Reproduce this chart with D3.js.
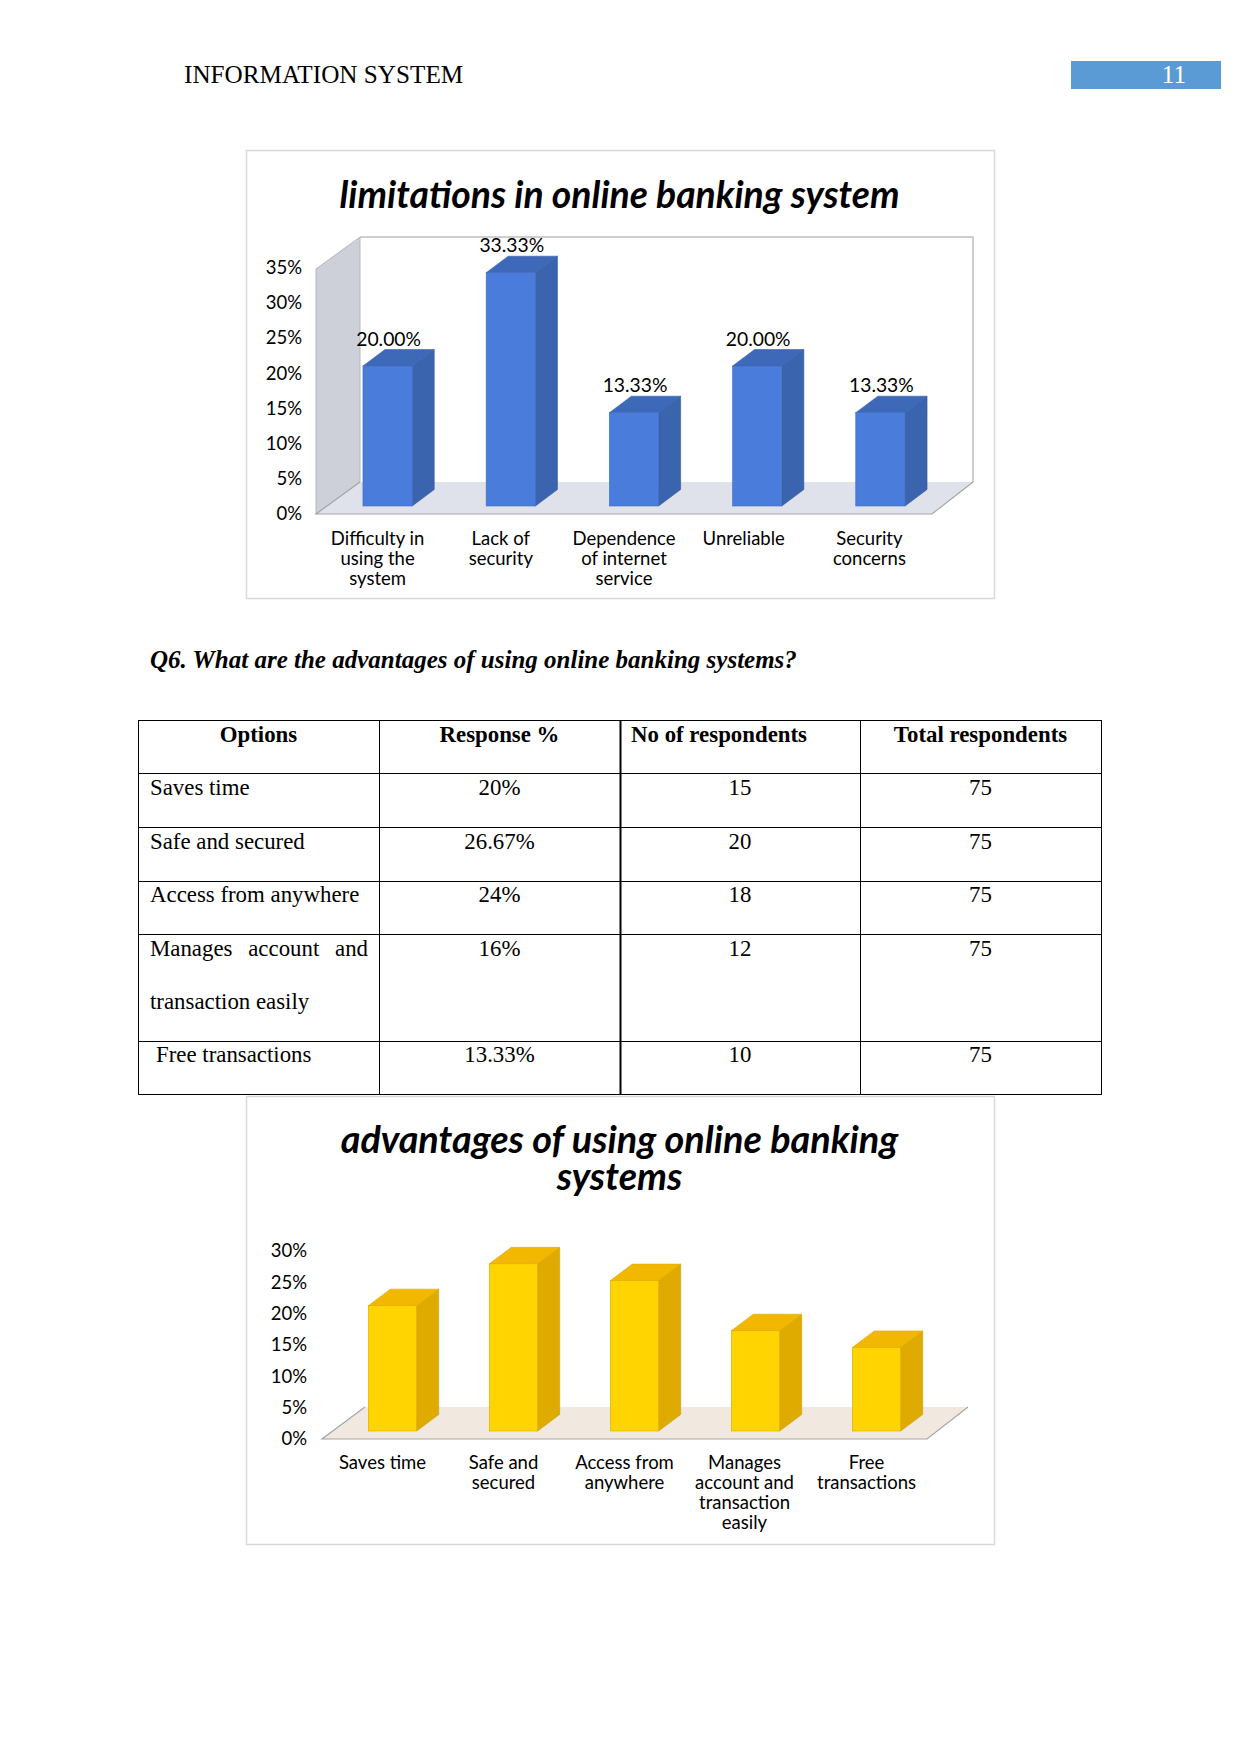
<!DOCTYPE html>
<html>
<head>
<meta charset="utf-8">
<script src="https://cdn.jsdelivr.net/npm/d3@7"></script>
<style>
  body { margin: 0; background: #fff; }
  text { fill: #000; }
  .serif { font-family: "Liberation Serif", serif; }
  .chart text { font-family: Lato, sans-serif; }
</style>
</head>
<body>
<div id="page"></div>
<script>
// chart 1
var limitCats = [["Difficulty in", "using the", "system"], ["Lack of", "security"], ["Dependence", "of internet", "service"], ["Unreliable"], ["Security", "concerns"]];
var limitVals = [20, 33.33, 13.33, 20, 13.33];
var limitLabels = ["20.00%", "33.33%", "13.33%", "20.00%", "13.33%"];
var limitTicks = [0, 5, 10, 15, 20, 25, 30, 35];

// chart 2
var advCats = [["Saves time"], ["Safe and", "secured"], ["Access from", "anywhere"], ["Manages", "account and", "transaction", "easily"], ["Free", "transactions"]];
var advVals = [20, 26.67, 24, 16, 13.33];
var advTicks = [0, 5, 10, 15, 20, 25, 30];

// table
var tableHead = ["Options", "Response %", "No of respondents", "Total respondents"];
var tableOptions = ["Saves time", "Safe and secured", "Access from anywhere", "Manages account and", "Free transactions"];
var tableResponse = ["20%", "26.67%", "24%", "16%", "13.33%"];
var tableCount = ["15", "20", "18", "12", "10"];
var tableTotal = ["75", "75", "75", "75", "75"];

var svg = d3.select("#page").append("svg")
  .attr("width", 1241)
  .attr("height", 1754)
  .style("display", "block");

// header
svg.append("text").attr("class", "serif")
  .attr("x", 184).attr("y", 83)
  .style("font-size", "25.2px")
  .text("INFORMATION SYSTEM");
svg.append("rect")
  .attr("x", 1071).attr("y", 61)
  .attr("width", 150).attr("height", 28)
  .attr("fill", "#5b9bd5");
svg.append("text").attr("class", "serif")
  .attr("x", 1174).attr("y", 83)
  .attr("text-anchor", "middle")
  .style("font-size", "25.2px")
  .style("fill", "#fff")
  .text("11");

function pts(list) {
  return list.map((p) => p.join(",")).join(" ");
}

function drawChart(cfg) {
  var g = svg.append("g").attr("class", "chart");

  g.append("rect")
    .attr("x", 246.5).attr("y", cfg.frameY + 0.5)
    .attr("width", 748).attr("height", 448)
    .attr("fill", "#fff")
    .attr("stroke", "#d9d9d9")
    .attr("stroke-width", 1.5);

  cfg.title.forEach(function (line, i) {
    g.append("text")
      .attr("x", 619.5)
      .attr("y", cfg.titleY + i * 37)
      .attr("text-anchor", "middle")
      .style("font-size", cfg.titleSize)
      .style("font-weight", 700)
      .style("font-style", "italic")
      .text(line);
  });

  var y = d3.scaleLinear().domain(cfg.yDomain).range(cfg.yRange);
  var x0 = cfg.xRange[0];
  var x1 = cfg.xRange[1];
  var y0 = y(0);
  var dxL = cfg.depth[0];
  var dxR = cfg.depth[1];
  var dy = cfg.depth[2];

  // floor and walls
  if (cfg.wall) {
    var top = y(cfg.yDomain[1]);
    g.append("polygon")
      .attr("points", pts([[x0, y0], [x0, top], [x0 + dxL, top - dy], [x0 + dxL, y0 - dy]]))
      .attr("fill", cfg.wall)
      .attr("stroke", "#b5b7bd");
    g.append("polyline")
      .attr("points", pts([[x0 + dxL, top - dy], [x1 + dxR, top - dy], [x1 + dxR, y0 - dy]]))
      .attr("fill", "none")
      .attr("stroke", "#bfbfbf")
      .attr("stroke-width", 1.5);
  }
  g.append("polygon")
    .attr("points", pts([[x0, y0], [x1, y0], [x1 + dxR, y0 - dy], [x0 + dxL, y0 - dy]]))
    .attr("fill", cfg.floor);
  g.append("polyline")
    .attr("points", pts([[x0 + dxL, y0 - dy], [x0, y0], [x1, y0], [x1 + dxR, y0 - dy]]))
    .attr("fill", "none")
    .attr("stroke", "#a6a6a6")
    .attr("stroke-width", 1.2);

  // bars
  var names = cfg.cats.map((c) => c.join(" "));
  var xBar = d3.scaleBand().domain(names)
    .range([x0 + 10, x1 + 10])
    .paddingInner(0.6).paddingOuter(0.3);
  var w = xBar.bandwidth();
  var bx = 22;
  var by = 16.5;
  var bars = g.selectAll(".bar").data(cfg.vals).enter().append("g").attr("class", "bar");
  bars.append("polygon")
    .attr("points", function (d, i) {
      var l = xBar(names[i]) + w;
      return pts([[l, y(d) - 8], [l + bx, y(d) - 8 - by], [l + bx, y0 - 8 - by], [l, y0 - 8]]);
    })
    .attr("fill", cfg.side[0]).attr("stroke", cfg.side[1]).attr("stroke-width", 0.6);
  bars.append("polygon")
    .attr("points", function (d, i) {
      var l = xBar(names[i]);
      return pts([[l, y(d) - 8], [l + w, y(d) - 8], [l + w + bx, y(d) - 8 - by], [l + bx, y(d) - 8 - by]]);
    })
    .attr("fill", cfg.top[0]).attr("stroke", cfg.top[1]).attr("stroke-width", 0.6);
  bars.append("rect")
    .attr("x", (d, i) => xBar(names[i]))
    .attr("y", (d) => y(d) - 8)
    .attr("width", w)
    .attr("height", (d) => y0 - y(d))
    .attr("fill", cfg.front[0]).attr("stroke", cfg.front[1]).attr("stroke-width", 0.6);

  if (cfg.labels) {
    bars.append("text")
      .attr("x", (d, i) => xBar(names[i]) + w / 2 + 1)
      .attr("y", (d) => y(d) - 28.5)
      .attr("text-anchor", "middle")
      .style("font-size", "19.3px")
      .text((d, i) => cfg.labels[i]);
  }

  // y axis, labels sit a little off the bar scale in the source
  var yTick = d3.scaleLinear().domain(cfg.yDomain).range(cfg.tickRange);
  var yAxis = d3.axisLeft(yTick)
    .tickValues(cfg.ticks)
    .tickSize(0)
    .tickPadding(0)
    .tickFormat((d) => d + "%");
  g.append("g")
    .attr("transform", "translate(" + cfg.tickX + ",0)")
    .call(yAxis)
    .call((a) => a.select(".domain").remove())
    .selectAll("text")
    .style("font-size", "18.5px");

  // x axis, category names broken over lines
  var xCat = d3.scaleBand().domain(names).range([x0, x1]);
  var xAxis = d3.axisBottom(xCat).tickSize(0).tickFormat("");
  var ax = g.append("g")
    .attr("transform", "translate(0," + cfg.catY + ")")
    .call(xAxis);
  ax.select(".domain").remove();
  ax.selectAll(".tick text")
    .attr("y", 0).attr("dy", null)
    .style("font-size", "18.5px")
    .each(function (d, i) {
      var t = d3.select(this);
      cfg.cats[i].forEach(function (line, k) {
        t.append("tspan").attr("x", cfg.catShift[i]).attr("y", k * 20).text(line);
      });
    });
}

drawChart({
  frameY: 150,
  title: ["limitations in online banking system"],
  titleY: 207.5,
  titleSize: "37.3px",
  cats: limitCats,
  vals: limitVals,
  labels: limitLabels,
  ticks: limitTicks,
  yDomain: [0, 35],
  yRange: [514, 269],
  tickRange: [514, 267.5],
  xRange: [316, 932],
  depth: [44, 41, 32],
  tickX: 302,
  catY: 544.5,
  catShift: [0, 0, 0, -3.5, -1],
  wall: "#cdd0d9",
  floor: "#dfe2ea",
  front: ["#4a7cdb", "#3f6cc0"],
  side: ["#3a64ad", "#34599c"],
  top: ["#3e68b8", "#3a62ae"]
});

// question line
svg.append("text").attr("class", "serif")
  .attr("x", 150).attr("y", 668)
  .style("font-size", "25px")
  .style("font-weight", 700)
  .style("font-style", "italic")
  .text("Q6. What are the advantages of using online banking systems?");

// table
var colX = [138, 379, 620, 860, 1101];
var rowY = [720, 773, 827, 881, 934, 1041, 1094];
var baseY = [795, 848.5, 902, 956, 1062];
var tableSize = "22.85px";

var tbl = svg.append("g").attr("class", "serif");
rowY.forEach(function (v) {
  tbl.append("line")
    .attr("x1", colX[0]).attr("x2", colX[4])
    .attr("y1", v + 0.5).attr("y2", v + 0.5)
    .attr("stroke", "#000");
});
colX.forEach(function (v, i) {
  tbl.append("line")
    .attr("x1", v + 0.5).attr("x2", v + 0.5)
    .attr("y1", rowY[0]).attr("y2", rowY[6] + 1)
    .attr("stroke", "#000")
    .attr("stroke-width", i == 2 ? 2 : 1);
});

// header row
tableHead.forEach(function (h, i) {
  var left = i == 2;
  tbl.append("text")
    .attr("x", left ? 631 : (colX[i] + colX[i + 1]) / 2)
    .attr("y", 742)
    .attr("text-anchor", left ? "start" : "middle")
    .style("font-size", tableSize)
    .style("font-weight", 700)
    .text(h);
});

// body rows
tableOptions.forEach(function (opt, i) {
  var t = tbl.append("text")
    .attr("x", i == 4 ? 156 : 150)
    .attr("y", baseY[i])
    .style("font-size", tableSize)
    .text(opt);
  if (i == 3) {
    // justified line in the source
    var extra = (218 - t.node().getComputedTextLength()) / 2;
    t.style("word-spacing", extra + "px");
  }
  [tableResponse, tableCount, tableTotal].forEach(function (col, c) {
    tbl.append("text")
      .attr("x", (colX[c + 1] + colX[c + 2]) / 2)
      .attr("y", baseY[i])
      .attr("text-anchor", "middle")
      .style("font-size", tableSize)
      .text(col[i]);
  });
});
tbl.append("text")
  .attr("x", 150).attr("y", 1009)
  .style("font-size", tableSize)
  .text("transaction easily");

drawChart({
  frameY: 1096,
  title: ["advantages of using online banking", "systems"],
  titleY: 1152.5,
  titleSize: "37.8px",
  cats: advCats,
  vals: advVals,
  ticks: advTicks,
  yDomain: [0, 30],
  yRange: [1439, 1251],
  tickRange: [1439, 1251],
  xRange: [322, 927],
  depth: [43, 41, 32],
  tickX: 307,
  catY: 1469,
  catShift: [0, 0, 0, -1, 0],
  floor: "#f1e9df",
  front: ["#ffd400", "#d9a900"],
  side: ["#e0ab00", "#cf9d00"],
  top: ["#f2b800", "#e0a900"]
});
</script>
</body>
</html>
